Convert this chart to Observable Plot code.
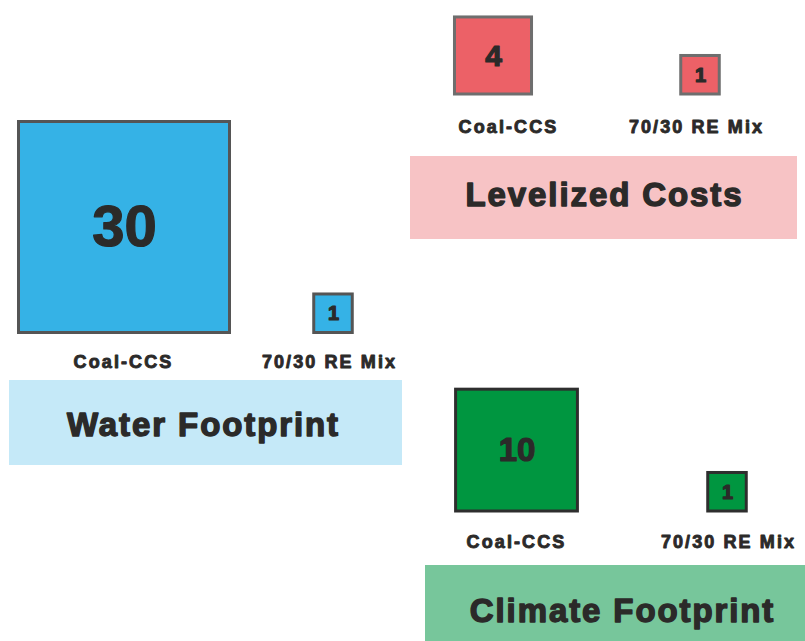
<!DOCTYPE html>
<html>
<head>
<meta charset="utf-8">
<script src="https://cdn.jsdelivr.net/npm/d3@7"></script>
<script src="https://cdn.jsdelivr.net/npm/@observablehq/plot@0.6"></script>
<style>
  html, body { margin: 0; padding: 0; background: #fff; }
  #chart svg { display: block; }
  text[aria-label="title"] { letter-spacing: 1.9px; }
  text[aria-label="category"] { letter-spacing: 2.1px; }
</style>
</head>
<body>
<div id="chart"></div>
<script>
// Two technologies compared on three metrics (relative units, 70/30 RE Mix = 1)
const categories = ["Coal-CCS", "70/30 RE Mix"];
const metrics = ["Water Footprint", "Levelized Costs", "Climate Footprint"];
const waterValues = [30, 1];
const costValues = [4, 1];
const climateValues = [10, 1];
const seriesByMetric = {
  "Water Footprint": waterValues,
  "Levelized Costs": costValues,
  "Climate Footprint": climateValues
};

const W = 805, H = 641;
const ink = "#2b2a29";
const font = "'Liberation Sans', Arial, Helvetica, sans-serif";

// Panel placement and colours
const layout = {
  "Water Footprint": {
    fill: "#35b2e6", edge: "#555555", band: "#c5e9f8",
    bandX: [9, 402], bandY: [380, 465], titleX: 203, titleY: 435,
    squareX: [124, 333], base: 332.5, labelX: [123, 329], labelY: 367,
    valueSize: [58, 20]
  },
  "Levelized Costs": {
    fill: "#ec6167", edge: "#6e6e6e", band: "#f7c3c5",
    bandX: [410, 797], bandY: [156, 239], titleX: 604, titleY: 205.5,
    squareX: [493, 700], base: 94, labelX: [508, 696], labelY: 132,
    valueSize: [30, 20]
  },
  "Climate Footprint": {
    fill: "#009640", edge: "#2e2e2e", band: "#77c69b",
    bandX: [425, 805], bandY: [565, 641], titleX: 622, titleY: 621.5,
    squareX: [516.5, 727], base: 511, labelX: [516, 728], labelY: 547,
    valueSize: [33, 20]
  }
};

// Square area is proportional to value
const side = d3.scaleSqrt().domain([0, 30]).range([0, 211]);

const squares = metrics.flatMap(m =>
  categories.map((c, slot) => ({metric: m, category: c, slot, value: seriesByMetric[m][slot]}))
);
const L = d => layout[d.metric];

const chart = Plot.plot({
  width: W,
  height: H,
  margin: 0,
  x: {domain: [0, W], range: [0, W], axis: null},
  y: {domain: [0, H], range: [0, H], axis: null},
  color: {type: "identity"},
  style: {background: "#fff", overflow: "visible"},
  marks: [
    // title bands
    Plot.rect(metrics, {
      x1: m => layout[m].bandX[0], x2: m => layout[m].bandX[1],
      y1: m => layout[m].bandY[0], y2: m => layout[m].bandY[1],
      fill: m => layout[m].band
    }),
    Plot.text(metrics, {
      x: m => layout[m].titleX, y: m => layout[m].titleY, text: m => m,
      fontSize: 33, fontWeight: "bold", fontFamily: font, fill: ink,
      stroke: ink, strokeWidth: 1.4, lineAnchor: "bottom", ariaLabel: () => "title"
    }),
    // value squares, bottom-aligned within each panel
    Plot.rect(squares, {
      x1: d => L(d).squareX[d.slot] - side(d.value) / 2,
      x2: d => L(d).squareX[d.slot] + side(d.value) / 2,
      y1: d => L(d).base - side(d.value),
      y2: d => L(d).base,
      fill: d => L(d).fill,
      stroke: d => L(d).edge,
      strokeWidth: 3
    }),
    Plot.text(squares, {
      x: d => L(d).squareX[d.slot],
      y: d => L(d).base - side(d.value) / 2,
      text: d => String(d.value),
      fontSize: d => L(d).valueSize[d.slot],
      fontWeight: "bold", fontFamily: font, fill: ink,
      stroke: ink, strokeWidth: 1.2, lineAnchor: "middle"
    }),
    // category labels
    Plot.text(squares, {
      x: d => L(d).labelX[d.slot], y: d => L(d).labelY, text: d => d.category,
      fontSize: 18, fontWeight: "bold", fontFamily: font, fill: ink,
      stroke: ink, strokeWidth: 0.9, lineAnchor: "bottom", ariaLabel: () => "category"
    })
  ]
});

document.getElementById("chart").appendChild(chart);
</script>
</body>
</html>
